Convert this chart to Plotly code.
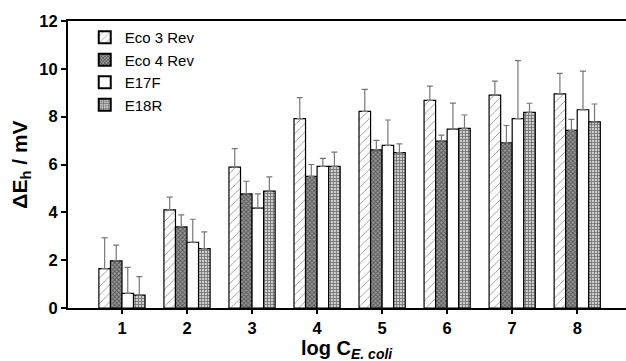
import plotly.graph_objects as go

categories = [1, 2, 3, 4, 5, 6, 7, 8]
series_names = ["Eco 3 Rev", "Eco 4 Rev", "E17F", "E18R"]

eco3_vals = [1.65, 4.10, 5.89, 7.92, 8.22, 8.68, 8.90, 8.95]
eco3_tops = [2.93, 4.64, 6.66, 8.80, 9.14, 9.28, 9.49, 9.81]
eco4_vals = [1.97, 3.39, 4.77, 5.50, 6.61, 6.98, 6.91, 7.43]
eco4_tops = [2.63, 3.89, 5.30, 6.00, 7.01, 7.23, 7.63, 7.89]
e17f_vals = [0.61, 2.75, 4.18, 5.92, 6.80, 7.48, 7.92, 8.29]
e17f_tops = [1.70, 3.71, 4.77, 6.26, 7.86, 8.57, 10.34, 9.90]
e18r_vals = [0.54, 2.48, 4.89, 5.92, 6.50, 7.51, 8.18, 7.78]
e18r_tops = [1.31, 3.18, 5.48, 6.52, 6.86, 8.07, 8.56, 8.53]

y_ticks = [0, 2, 4, 6, 8, 10, 12]

vals = [eco3_vals, eco4_vals, e17f_vals, e18r_vals]
tops = [eco3_tops, eco4_tops, e17f_tops, e18r_tops]
patterns = [
    dict(shape="/", fgcolor="#333", bgcolor="white", size=6, solidity=0.15),
    dict(shape="x", fgcolor="#111", bgcolor="#999", size=3, solidity=0.5),
    dict(shape="", fgcolor="black", bgcolor="white"),
    dict(shape="+", fgcolor="#111", bgcolor="#ccc", size=3, solidity=0.45),
]

FONT = "Liberation Sans, Arial, sans-serif"

fig = go.Figure()
for name, v, t, p in zip(series_names, vals, tops, patterns):
    fig.add_trace(go.Bar(
        x=categories, y=v, name=name,
        marker=dict(color="white", pattern=p, line=dict(color="black", width=1.2)),
        error_y=dict(type="data", symmetric=False,
                     array=[tt - vv for tt, vv in zip(t, v)],
                     arrayminus=[0] * len(v),
                     color="#777", thickness=1.2, width=3),
    ))

fig.update_layout(
    width=626, height=361,
    margin=dict(l=68, r=0, t=21, b=53),
    plot_bgcolor="white", paper_bgcolor="white",
    barmode="group", bargap=0.29, bargroupgap=0,
    font=dict(family=FONT, color="black"),
    showlegend=True,
    legend=dict(x=0.03, y=1.0, xanchor="left", yanchor="top",
                bgcolor="rgba(0,0,0,0)", font=dict(size=15),
                tracegroupgap=0, itemsizing="constant"),
    annotations=[dict(
        text="<b>log C<sub><i>E. coli</i></sub></b>",
        xref="paper", yref="paper", x=0.5, y=-0.093,
        xanchor="center", yanchor="top", showarrow=False,
        font=dict(size=20, family=FONT, color="black"),
    )],
)
fig.update_xaxes(
    range=[0.17, 8.75], tickvals=categories, ticktext=[str(c) for c in categories],
    showline=True, linecolor="black", linewidth=2, mirror=True,
    ticks="outside", ticklen=4, tickwidth=2, tickcolor="black",
    showgrid=False, zeroline=False,
    tickfont=dict(size=16.5, family=FONT, weight="bold"),
)
fig.update_yaxes(
    range=[0, 12], tickvals=y_ticks, ticktext=[str(t) for t in y_ticks],
    showline=True, linecolor="black", linewidth=2,
    ticks="outside", ticklen=5, tickwidth=2, tickcolor="black",
    showgrid=False, zeroline=False,
    tickfont=dict(size=16.5, weight="bold"),
    title=dict(text="ΔE<sub>h</sub> / mV", standoff=6,
               font=dict(size=21, weight="bold")),
)

fig.write_html("out.html", config={"displayModeBar": False},
               post_script="document.body.style.margin='0';document.body.style.overflow='hidden';")
